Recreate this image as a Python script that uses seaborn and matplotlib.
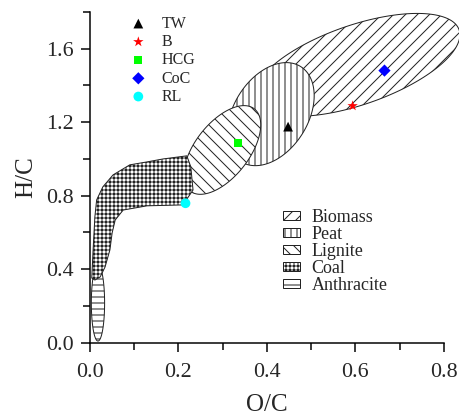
import numpy as np
import pandas as pd
import matplotlib.pyplot as plt
import seaborn as sns
from matplotlib.patches import Polygon, Patch
from matplotlib.ticker import MultipleLocator

# Sample points (O/C, H/C)
samples = ['TW', 'B', 'HCG', 'CoC', 'RL']
oc_values = [0.448, 0.594, 0.335, 0.666, 0.216]
hc_values = [1.176, 1.289, 1.085, 1.481, 0.759]
sample_colors = ['black', 'red', '#00ff00', 'blue', 'cyan']
sample_markers = ['^', '*', 's', 'D', 'o']
sample_sizes = [95, 120, 65, 75, 95]

# Fuel regions drawn as ellipses: centre, half length / half width (O/C units), tilt (deg)
ellipse_names = ['Biomass', 'Peat', 'Lignite', 'Anthracite']
ellipse_oc = [0.604, 0.409, 0.299, 0.018]
ellipse_hc = [1.512, 1.244, 1.049, 0.216]
ellipse_half_len = [0.244, 0.127, 0.118, 0.086]
ellipse_half_wid = [0.090, 0.084, 0.061, 0.015]
ellipse_tilt = [19, 58, 52, 90]

# Coal region outline
coal_oc = [0.004, 0.007, 0.011, 0.015, 0.029, 0.052, 0.090, 0.129, 0.165, 0.219,
           0.228, 0.233, 0.210, 0.129, 0.075, 0.057, 0.050, 0.045, 0.034, 0.023, 0.011]
coal_hc = [0.352, 0.505, 0.685, 0.777, 0.848, 0.913, 0.968, 0.984, 1.000, 1.017,
           0.957, 0.831, 0.750, 0.745, 0.722, 0.668, 0.597, 0.505, 0.412, 0.358, 0.341]

legend_order = ['Biomass', 'Peat', 'Lignite', 'Coal', 'Anthracite']
hatches = {'Biomass': '//', 'Peat': '||', 'Lignite': '\\\\', 'Coal': '+++', 'Anthracite': '--'}

sns.set_style('ticks')
plt.rcParams['font.family'] = ['Liberation Serif', 'DejaVu Serif']
plt.rcParams['hatch.linewidth'] = 1.0
plt.rcParams['hatch.color'] = 'black'

fig = plt.figure(figsize=(459 / 72, 416 / 72), dpi=72)
ax = fig.add_axes([0.1961, 0.1762, 0.7706, 0.7950])
ax.set_xlim(0, 0.8)
ax.set_ylim(0, 1.8)

# display aspect, so tilted ellipses look right on screen
pos = ax.get_position()
k = (pos.height * fig.get_figheight() / 1.8) / (pos.width * fig.get_figwidth() / 0.8)

t = np.linspace(0, 2 * np.pi, 240)
for i, name in enumerate(ellipse_names):
    th = np.deg2rad(ellipse_tilt[i])
    a, b = ellipse_half_len[i], ellipse_half_wid[i]
    u = a * np.cos(t) * np.cos(th) - b * np.sin(t) * np.sin(th)
    v = a * np.cos(t) * np.sin(th) + b * np.sin(t) * np.cos(th)
    pts = np.column_stack([ellipse_oc[i] + u, ellipse_hc[i] + v / k])
    ax.add_patch(Polygon(pts, closed=True, facecolor='white', edgecolor='#222222',
                         lw=1.0, hatch=hatches[name], zorder=1 + i, clip_on=False))

ax.add_patch(Polygon(np.column_stack([coal_oc, coal_hc]), closed=True, facecolor='white',
                     edgecolor='#222222', lw=1.0, hatch=hatches['Coal'], zorder=6))

df = pd.DataFrame({'OC': oc_values, 'HC': hc_values, 'sample': samples})
pts_handles = []
for i, s in enumerate(samples):
    sns.scatterplot(data=df[df['sample'] == s], x='OC', y='HC', color=sample_colors[i],
                    marker=sample_markers[i], s=sample_sizes[i], edgecolor='none',
                    ax=ax, zorder=10, label=s, legend=False)
    pts_handles.append(ax.collections[-1])

ax.set_xlim(0, 0.8)
ax.set_ylim(0, 1.8)
ax.xaxis.set_major_locator(MultipleLocator(0.2))
ax.xaxis.set_minor_locator(MultipleLocator(0.1))
ax.yaxis.set_major_locator(MultipleLocator(0.4))
ax.yaxis.set_minor_locator(MultipleLocator(0.2))
ax.tick_params(which='major', direction='out', length=9, width=1.5, labelsize=22, pad=7, color='black')
ax.tick_params(axis='x', which='major', pad=11)
ax.tick_params(which='minor', direction='out', length=7, width=1.5, color='black')
ax.xaxis.set_major_formatter(plt.FuncFormatter(lambda v, p: f'{v:.1f}'))
ax.yaxis.set_major_formatter(plt.FuncFormatter(lambda v, p: f'{v:.1f}'))
sns.despine(ax=ax)
for sp in ['left', 'bottom']:
    ax.spines[sp].set_linewidth(1.5)
    ax.spines[sp].set_color('black')
ax.set_xlabel('O/C', fontsize=25, labelpad=12)
ax.set_ylabel('H/C', fontsize=25, labelpad=9)

leg1 = ax.legend(pts_handles, samples, loc='upper left', bbox_to_anchor=(0.114, 0.9885),
                 frameon=False, fontsize=16, handlelength=1.0, handletextpad=0.96,
                 labelspacing=0.14, borderpad=0, borderaxespad=0, scatterpoints=1)
ax.add_artist(leg1)

patch_handles = [Patch(facecolor='white', edgecolor='#222222', lw=1.0, hatch=hatches[n])
                 for n in legend_order]
ax.legend(patch_handles, legend_order, loc='upper left', bbox_to_anchor=(0.5457, 0.4043),
          frameon=False, fontsize=18, handlelength=0.92, handleheight=0.43,
          handletextpad=0.67, labelspacing=0.0, borderpad=0, borderaxespad=0)

fig.savefig('out.png', dpi=72)
